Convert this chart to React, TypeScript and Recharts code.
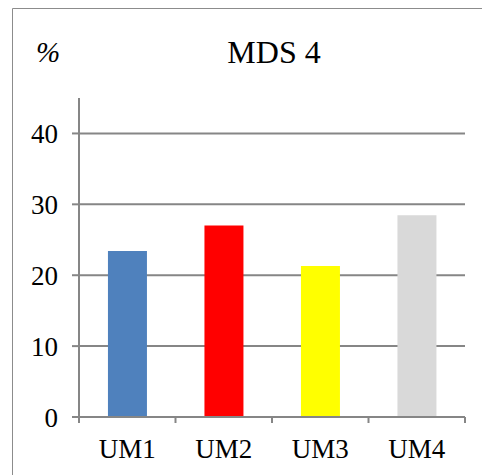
import { Bar, BarChart, CartesianGrid, Cell, XAxis, YAxis } from "recharts";

const categories = ["UM1", "UM2", "UM3", "UM4"];
const values = [23.4, 27.0, 21.3, 28.45];
const barColors = ["#4F81BD", "#FF0000", "#FFFF00", "#D9D9D9"];
const yTicks = [0, 10, 20, 30, 40];

const data = categories.map((name, i) => ({ name, value: values[i] }));

const axisGray = "#868686";
const serif = "Liberation Serif, Times New Roman, serif";

// category ticks sit on the band edges, like Excel
const CategoryTick = (props: any) => {
  const { x, y, payload, index, visibleTicksCount } = props;
  const half = payload?.offset || 48.25;
  const count = visibleTicksCount ?? categories.length;
  return (
    <g>
      <line x1={x - half} x2={x - half} y1={y - 22} y2={y - 16} stroke={axisGray} strokeWidth={2} />
      {index === count - 1 && (
        <line x1={x + half} x2={x + half} y1={y - 22} y2={y - 16} stroke={axisGray} strokeWidth={2} />
      )}
      <text x={x} y={y} dy="0.71em" textAnchor="middle" fontSize={27} style={{ fontFamily: serif }} fill="#000">
        {payload.value}
      </text>
    </g>
  );
};

export default function App() {
  return (
    <div style={{ position: "absolute", left: 0, top: 0, width: 482, height: 475, background: "#fff" }}>
      <BarChart
        width={482}
        height={475}
        data={data}
        margin={{ top: 98, right: 17, bottom: 0, left: 0 }}
        barCategoryGap="30%"
      >
        <CartesianGrid vertical={false} horizontalValues={yTicks} stroke={axisGray} strokeWidth={2} />
        <XAxis
          dataKey="name"
          height={58}
          stroke={axisGray}
          strokeWidth={2}
          tickLine={false}
          tickSize={0}
          tickMargin={22}
          tick={<CategoryTick />}
          interval={0}
        />
        <YAxis
          width={79}
          domain={[0, 45]}
          ticks={yTicks}
          stroke={axisGray}
          strokeWidth={2}
          tickSize={7}
          tickMargin={14}
          tick={{ fill: "#000", fontSize: 27, fontFamily: serif }}
        />
        <Bar dataKey="value" isAnimationActive={false}>
          {data.map((d, i) => (
            <Cell key={d.name} fill={barColors[i]} />
          ))}
        </Bar>
      </BarChart>
      <svg
        width={482}
        height={475}
        style={{ position: "absolute", left: 0, top: 0, pointerEvents: "none" }}
      >
        <path d="M12.5,475 V8.5 H482" fill="none" stroke="#8c8c8c" strokeWidth={1} />
        <text x={36} y={62} fontSize={29} fontStyle="italic" style={{ fontFamily: serif }} fill="#000">
          %
        </text>
        <text x={274} y={63} textAnchor="middle" fontSize={32} style={{ fontFamily: serif }} fill="#000">
          MDS 4
        </text>
      </svg>
    </div>
  );
}
